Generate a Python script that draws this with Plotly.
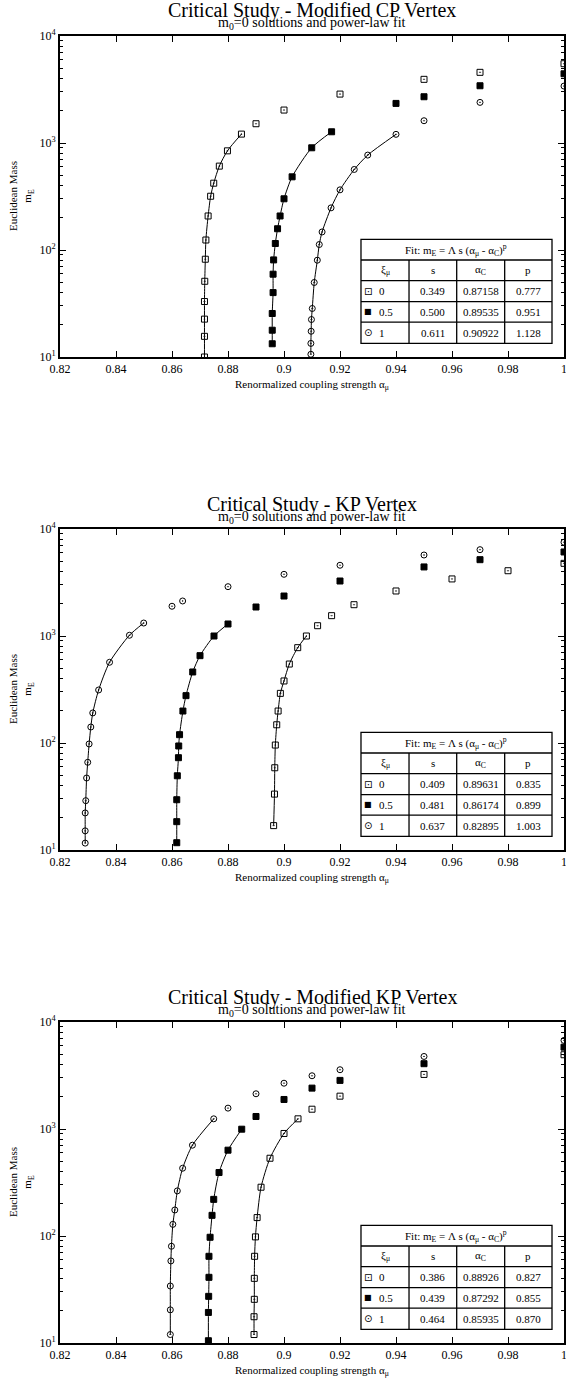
import plotly.graph_objects as go

W, H = 566, 1383

# ---------------- text / ticks ----------------
x_tick_vals = [0.82, 0.84, 0.86, 0.88, 0.90, 0.92, 0.94, 0.96, 0.98, 1.00]
x_tick_text = ["0.82", "0.84", "0.86", "0.88", "0.9", "0.92", "0.94", "0.96", "0.98", "1"]
y_tick_vals = [10, 100, 1000, 10000]
y_tick_text = ["10<sup>1</sup>", "10<sup>2</sup>", "10<sup>3</sup>", "10<sup>4</sup>"]
y_minor_vals = [m * d for d in (10, 100, 1000) for m in range(2, 10)]

panel_titles = ["Critical Study - Modified CP Vertex",
                "Critical Study - KP Vertex",
                "Critical Study - Modified KP Vertex"]
subtitle_text = "m<sub>0</sub>=0 solutions and power-law fit"
x_title_text = "Renormalized coupling strength α<sub>μ</sub>"
y_title_text = "Euclidean Mass<br>m<sub>E</sub>"
fit_header = "Fit: m<sub>E</sub> = Λ s (α<sub>μ</sub> - α<sub>C</sub>)<sup>p</sup>"
col_headers = ["ξ<sub>μ</sub>", "s", "α<sub>C</sub>", "p"]
xi_values = ["0", "0.5", "1"]

# ---------------- Panel 1: Modified CP vertex ----------------
cp_xi0_alpha = [0.8716, 0.8716, 0.8716, 0.8716, 0.8717, 0.8719, 0.8721, 0.8729, 0.8738, 0.8749, 0.8769, 0.8798, 0.8848,
                0.89, 0.90, 0.92, 0.95, 0.97, 1.00]
cp_xi0_mass = [10.0, 15.6, 22.6, 33, 51, 82, 124, 208, 318, 421, 608, 845, 1211,
               1514, 2032, 2865, 3935, 4575, 5508]
cp_xi0_nfit = 13
cp_xi05_alpha = [0.8958, 0.8958, 0.8958, 0.8961, 0.8961, 0.8963, 0.8969, 0.8977, 0.8986, 0.9000, 0.9029, 0.9099, 0.9170,
                 0.94, 0.95, 0.97, 1.00]
cp_xi05_mass = [13.3, 17.8, 25.5, 40, 59.4, 80.8, 115, 158, 208, 301, 483, 902, 1273,
                2344, 2706, 3428, 4434]
cp_xi05_nfit = 13
cp_xi1_alpha = [0.9096, 0.9096, 0.9097, 0.9098, 0.9101, 0.9108, 0.9119, 0.9126, 0.9136, 0.9168, 0.9200, 0.9251, 0.9299, 0.9400,
                0.95, 0.97, 1.00]
cp_xi1_mass = [10.6, 13.4, 17.4, 22.4, 28.4, 49.7, 80.3, 112.5, 147.5, 247.7, 365, 566, 771, 1205,
               1615, 2397, 3404]
cp_xi1_nfit = 14
cp_s = ["0.349", "0.500", "0.611"]
cp_ac = ["0.87158", "0.89535", "0.90922"]
cp_p = ["0.777", "0.951", "1.128"]

# ---------------- Panel 2: KP vertex ----------------
kp_xi0_alpha = [0.8963, 0.8966, 0.8967, 0.8969, 0.8974, 0.8979, 0.8987, 0.9000, 0.9019, 0.9049, 0.9080,
                0.912, 0.917, 0.925, 0.94, 0.96, 0.98, 1.00]
kp_xi0_mass = [16.9, 33.3, 58.7, 95.7, 148, 199, 291, 380, 547, 778, 1000,
               1248, 1549, 1961, 2635, 3415, 4075, 4777]
kp_xi0_nfit = 11
kp_xi05_alpha = [0.8617, 0.8617, 0.8617, 0.8619, 0.8623, 0.8624, 0.8627, 0.8639, 0.8650, 0.8674, 0.8700, 0.8750, 0.8800,
                 0.89, 0.90, 0.92, 0.95, 0.97, 1.00]
kp_xi05_mass = [11.7, 18.4, 29.5, 49.4, 72.9, 93.8, 119.6, 199, 277, 461, 655, 1000, 1295,
                1866, 2364, 3266, 4420, 5167, 6100]
kp_xi05_nfit = 13
kp_xi1_alpha = [0.8290, 0.8290, 0.8290, 0.8292, 0.8295, 0.8299, 0.8304, 0.8310, 0.8317, 0.8338, 0.8377, 0.8448, 0.8499,
                0.86, 0.8638, 0.88, 0.90, 0.92, 0.95, 0.97, 1.00]
kp_xi1_mass = [11.6, 15.1, 22.2, 28.9, 47.1, 66, 98, 141, 191, 313, 568, 1016, 1322,
               1897, 2125, 2890, 3772, 4583, 5715, 6411, 7520]
kp_xi1_nfit = 13
kp_s = ["0.409", "0.481", "0.637"]
kp_ac = ["0.89631", "0.86174", "0.82895"]
kp_p = ["0.835", "0.899", "1.003"]

# ---------------- Panel 3: Modified KP vertex ----------------
mkp_xi0_alpha = [0.8893, 0.8893, 0.8894, 0.8894, 0.8895, 0.8898, 0.8904, 0.8918, 0.8950, 0.9000, 0.9050,
                 0.91, 0.92, 0.95, 1.00]
mkp_xi0_mass = [12, 17.6, 25.6, 40.2, 64.6, 98.1, 148.6, 285.6, 533, 908, 1245,
                1531, 2027, 3236, 4943]
mkp_xi0_nfit = 11
mkp_xi05_alpha = [0.8730, 0.8730, 0.8731, 0.8732, 0.8732, 0.8736, 0.8743, 0.8749, 0.8768, 0.8800, 0.8849,
                  0.89, 0.90, 0.91, 0.92, 0.95, 1.00]
mkp_xi05_mass = [10.5, 19.3, 27.3, 41.1, 64.6, 97.3, 156, 220, 392, 634, 996,
                 1309, 1888, 2410, 2846, 4076, 5818]
mkp_xi05_nfit = 11
mkp_xi1_alpha = [0.8594, 0.8594, 0.8594, 0.8596, 0.8598, 0.8603, 0.8610, 0.8619, 0.8638, 0.8673, 0.8749,
                 0.88, 0.89, 0.90, 0.91, 0.92, 0.95, 1.00]
mkp_xi1_mass = [12, 20.4, 34.1, 58.5, 80.2, 128.5, 175, 264, 430, 706, 1245,
                1567, 2134, 2679, 3145, 3581, 4764, 6730]
mkp_xi1_nfit = 11
mkp_s = ["0.386", "0.439", "0.464"]
mkp_ac = ["0.88926", "0.87292", "0.85935"]
mkp_p = ["0.827", "0.855", "0.870"]

panels = [
    dict(title=panel_titles[0],
         series=[(cp_xi0_alpha, cp_xi0_mass, cp_xi0_nfit),
                 (cp_xi05_alpha, cp_xi05_mass, cp_xi05_nfit),
                 (cp_xi1_alpha, cp_xi1_mass, cp_xi1_nfit)],
         s=cp_s, ac=cp_ac, p=cp_p),
    dict(title=panel_titles[1],
         series=[(kp_xi0_alpha, kp_xi0_mass, kp_xi0_nfit),
                 (kp_xi05_alpha, kp_xi05_mass, kp_xi05_nfit),
                 (kp_xi1_alpha, kp_xi1_mass, kp_xi1_nfit)],
         s=kp_s, ac=kp_ac, p=kp_p),
    dict(title=panel_titles[2],
         series=[(mkp_xi0_alpha, mkp_xi0_mass, mkp_xi0_nfit),
                 (mkp_xi05_alpha, mkp_xi05_mass, mkp_xi05_nfit),
                 (mkp_xi1_alpha, mkp_xi1_mass, mkp_xi1_nfit)],
         s=mkp_s, ac=mkp_ac, p=mkp_p),
]

# ---------------- styling ----------------
FONT = "Liberation Serif"
symbols = ["square-open-dot", "square", "circle-open-dot"]
legend_glyphs = ["⊡", "■", "⊙"]
legend_glyph_sizes = [10, 8, 10]

PLOT_L, PLOT_R = 60, 564
PANEL_TOPS = [36, 529, 1022]
PANEL_H = 321

fig = go.Figure()
annotations = []
shapes = []

# table geometry (fractions of the plot area)
tx = [0.5972, 0.6925, 0.7871, 0.8823, 0.9762]
ty = [0.3667, 0.3022, 0.2377, 0.1726, 0.1087, 0.0427]

for i, pan in enumerate(panels):
    sfx = "" if i == 0 else str(i + 1)
    xa, ya = "x" + sfx, "y" + sfx
    top = PANEL_TOPS[i]
    xdom = [PLOT_L / W, PLOT_R / W]
    ydom = [1 - (top + PANEL_H) / H, 1 - top / H]

    for k, (al, ms, nfit) in enumerate(pan["series"]):
        fig.add_trace(go.Scatter(x=al[:nfit], y=ms[:nfit], mode="lines",
                                 line=dict(color="black", width=1, shape="spline", smoothing=0.7),
                                 xaxis=xa, yaxis=ya, showlegend=False, hoverinfo="skip"))
        fig.add_trace(go.Scatter(x=al, y=ms, mode="markers",
                                 marker=dict(symbol=symbols[k], size=6, color="black",
                                             line=dict(color="black", width=1)),
                                 xaxis=xa, yaxis=ya, showlegend=False))

    axis_common = dict(showline=True, linecolor="black", linewidth=2, mirror="ticks",
                       ticks="inside", tickcolor="black", tickwidth=1.2, ticklen=6,
                       showgrid=False, zeroline=False, automargin=False,
                       ticklabeloverflow="allow",
                       tickfont=dict(family=FONT, size=12, color="black"))
    fig.layout["xaxis" + sfx] = dict(axis_common, domain=xdom, anchor=ya, range=[0.82, 1.0],
                                     tickmode="array", tickvals=x_tick_vals, ticktext=x_tick_text)
    fig.layout["yaxis" + sfx] = dict(axis_common, domain=ydom, anchor=xa, type="log", range=[1, 4],
                                     tickmode="array", tickvals=y_tick_vals, ticktext=y_tick_text,
                                     minor=dict(tickmode="array", tickvals=y_minor_vals, ticks="inside",
                                                ticklen=3, tickwidth=1, tickcolor="black", showgrid=False))

    xd, yd = xa + " domain", ya + " domain"
    # titles
    annotations.append(dict(text=pan["title"], xref=xd, yref=yd, x=0.5, y=1, yshift=25,
                            xanchor="center", yanchor="middle", showarrow=False,
                            font=dict(family=FONT, size=20, color="black")))
    annotations.append(dict(text=subtitle_text, xref=xd, yref=yd, x=0.5, y=1, yshift=12,
                            xanchor="center", yanchor="middle", showarrow=False,
                            font=dict(family=FONT, size=14, color="black")))
    annotations.append(dict(text=x_title_text, xref=xd, yref=yd, x=0.5, y=0, yshift=-28,
                            xanchor="center", yanchor="middle", showarrow=False,
                            font=dict(family=FONT, size=11, color="black")))
    annotations.append(dict(text=y_title_text, xref="paper", yref=yd, x=21.5 / W, y=0.5,
                            xanchor="center", yanchor="middle", textangle=-90, showarrow=False,
                            font=dict(family=FONT, size=11, color="black")))

    # table frame
    shapes.append(dict(type="rect", xref=xd, yref=yd, x0=tx[0], x1=tx[-1], y0=ty[-1], y1=ty[0],
                       line=dict(color="black", width=1.3), fillcolor="white", layer="above"))
    for yy in ty[1:-1]:
        shapes.append(dict(type="line", xref=xd, yref=yd, x0=tx[0], x1=tx[-1], y0=yy, y1=yy,
                           line=dict(color="black", width=1.3), layer="above"))
    for xx in tx[1:-1]:
        shapes.append(dict(type="line", xref=xd, yref=yd, x0=xx, x1=xx, y0=ty[-1], y1=ty[1],
                           line=dict(color="black", width=1.3), layer="above"))
    tfont = dict(family=FONT, size=11, color="black")
    annotations.append(dict(text=fit_header, xref=xd, yref=yd, x=(tx[0] + tx[-1]) / 2, y=(ty[0] + ty[1]) / 2,
                            xanchor="center", yanchor="middle", showarrow=False, font=tfont))
    for c in range(4):
        annotations.append(dict(text=col_headers[c], xref=xd, yref=yd, x=(tx[c] + tx[c + 1]) / 2,
                                y=(ty[1] + ty[2]) / 2, xanchor="center", yanchor="middle",
                                showarrow=False, font=tfont))
    for r in range(3):
        yc = (ty[2 + r] + ty[3 + r]) / 2
        annotations.append(dict(text=legend_glyphs[r], xref=xd, yref=yd, x=tx[0] + 0.0145, y=yc,
                                xanchor="center", yanchor="middle", showarrow=False,
                                font=dict(family="DejaVu Sans", size=legend_glyph_sizes[r], color="black")))
        annotations.append(dict(text=xi_values[r], xref=xd, yref=yd, x=tx[0] + 0.031, y=yc,
                                xanchor="left", yanchor="middle", showarrow=False, font=tfont))
        for c, vals in enumerate([pan["s"], pan["ac"], pan["p"]]):
            annotations.append(dict(text=vals[r], xref=xd, yref=yd, x=(tx[c + 1] + tx[c + 2]) / 2, y=yc,
                                    xanchor="center", yanchor="middle", showarrow=False, font=tfont))

fig.update_layout(width=W, height=H, margin=dict(l=0, r=0, t=0, b=0, autoexpand=False),
                  paper_bgcolor="white", plot_bgcolor="white",
                  showlegend=False, annotations=annotations, shapes=shapes,
                  font=dict(family=FONT, color="black"))

# remove the browser's default 8px page margin so the figure sits at the window origin
fig.write_html("out.html", config={"displayModeBar": False},
               post_script="document.body.style.margin='0';")
